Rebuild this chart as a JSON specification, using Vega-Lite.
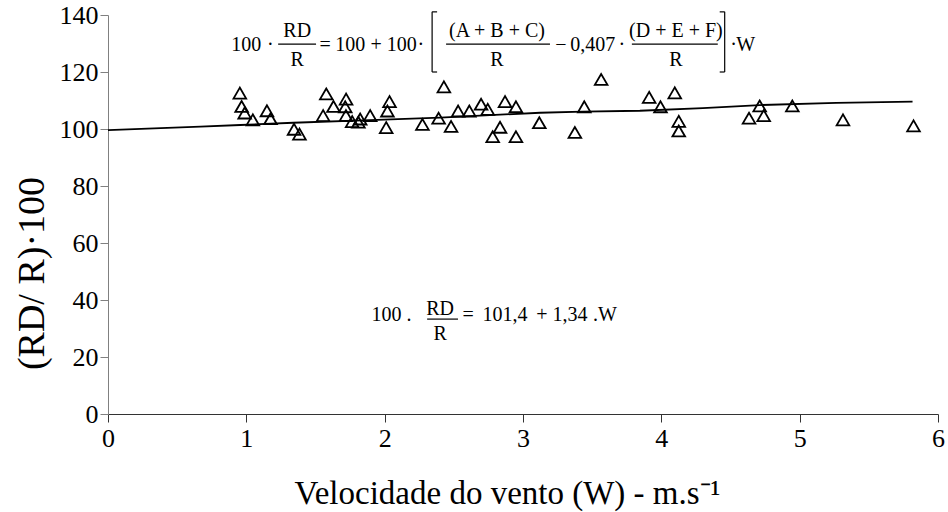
{
  "$schema": "https://vega.github.io/schema/vega-lite/v6.json",
  "width": 830,
  "height": 399,
  "autosize": {"type": "none"},
  "padding": {"left": 108, "top": 15, "right": 10, "bottom": 98},
  "background": "white",
  "config": {"view": {"stroke": null}, "font": "Liberation Serif"},
  "datasets": {
    "pts": [
      {"W": 0.953, "RD": 112.6}, {"W": 0.966, "RD": 107.9}, {"W": 0.988, "RD": 105.6}, {"W": 1.047, "RD": 103.2},
      {"W": 1.149, "RD": 106.4}, {"W": 1.175, "RD": 103.6}, {"W": 1.345, "RD": 99.9}, {"W": 1.384, "RD": 98.2},
      {"W": 1.578, "RD": 112.3}, {"W": 1.555, "RD": 104.7}, {"W": 1.63, "RD": 107.9}, {"W": 1.721, "RD": 110.5},
      {"W": 1.715, "RD": 107.8}, {"W": 1.72, "RD": 104.7}, {"W": 1.765, "RD": 102.6}, {"W": 1.823, "RD": 103.5},
      {"W": 1.81, "RD": 102.4}, {"W": 1.895, "RD": 104.7}, {"W": 2.035, "RD": 109.6}, {"W": 2.02, "RD": 106.3},
      {"W": 2.011, "RD": 100.5}, {"W": 2.273, "RD": 101.6}, {"W": 2.39, "RD": 103.8}, {"W": 2.428, "RD": 114.8},
      {"W": 2.48, "RD": 100.9}, {"W": 2.531, "RD": 106.3}, {"W": 2.612, "RD": 106.3}, {"W": 2.697, "RD": 108.7},
      {"W": 2.745, "RD": 106.9}, {"W": 2.87, "RD": 109.6}, {"W": 2.949, "RD": 107.8}, {"W": 2.834, "RD": 100.6},
      {"W": 2.781, "RD": 97.3}, {"W": 2.949, "RD": 97.3}, {"W": 3.118, "RD": 102.2}, {"W": 3.375, "RD": 98.8},
      {"W": 3.443, "RD": 107.8}, {"W": 3.565, "RD": 117.4}, {"W": 3.912, "RD": 111.1}, {"W": 3.994, "RD": 107.8},
      {"W": 4.097, "RD": 112.7}, {"W": 4.126, "RD": 102.7}, {"W": 4.126, "RD": 99.3}, {"W": 4.634, "RD": 103.8},
      {"W": 4.711, "RD": 108.1}, {"W": 4.74, "RD": 104.7}, {"W": 4.947, "RD": 108.1}, {"W": 5.313, "RD": 103.2},
      {"W": 5.823, "RD": 101.1}
    ],
    "fit": [
      {"W": 0.0, "RD": 99.6}, {"W": 0.668, "RD": 100.8}, {"W": 0.957, "RD": 101.4}, {"W": 1.339, "RD": 102.2},
      {"W": 1.944, "RD": 103.2}, {"W": 2.401, "RD": 104.0}, {"W": 3.123, "RD": 105.7}, {"W": 3.433, "RD": 106.1},
      {"W": 3.845, "RD": 106.4}, {"W": 4.3, "RD": 107.3}, {"W": 4.711, "RD": 108.4}, {"W": 5.265, "RD": 109.2},
      {"W": 5.816, "RD": 109.6}
    ],
    "eqtext": [
      {"t": "100", "x": 1.0, "y": 129.5}, {"t": "·", "x": 1.173, "y": 129.5},
      {"t": "RD", "x": 1.368, "y": 134.4}, {"t": "R", "x": 1.368, "y": 124.2},
      {"t": "=", "x": 1.57, "y": 129.5}, {"t": "100", "x": 1.751, "y": 129.5}, {"t": "+", "x": 1.939, "y": 129.5},
      {"t": "100", "x": 2.124, "y": 129.5}, {"t": "·", "x": 2.262, "y": 129.5},
      {"t": "(A + B + C)", "x": 2.812, "y": 134.4}, {"t": "R", "x": 2.812, "y": 124.2},
      {"t": "−", "x": 3.274, "y": 129.5}, {"t": "0,407", "x": 3.505, "y": 129.5}, {"t": "·", "x": 3.715, "y": 129.5},
      {"t": "(D + E + F)", "x": 4.105, "y": 134.4}, {"t": "R", "x": 4.105, "y": 124.2},
      {"t": "·", "x": 4.523, "y": 129.5}, {"t": "W", "x": 4.61, "y": 129.5},
      {"t": "100 .", "x": 2.05, "y": 34.7}, {"t": "RD", "x": 2.401, "y": 36.8}, {"t": "R", "x": 2.401, "y": 28.0},
      {"t": "=", "x": 2.603, "y": 34.7}, {"t": "101,4", "x": 2.87, "y": 34.7}, {"t": "+", "x": 3.137, "y": 34.7},
      {"t": "1,34", "x": 3.339, "y": 34.7}, {"t": ".W", "x": 3.592, "y": 34.7}
    ],
    "bars": [
      {"x": 1.23, "x2": 1.504, "y": 129.8, "y2": 129.8},
      {"x": 2.444, "x2": 3.195, "y": 129.8, "y2": 129.8},
      {"x": 3.787, "x2": 4.408, "y": 129.8, "y2": 129.8},
      {"x": 2.307, "x2": 2.53, "y": 33.3, "y2": 33.3},
      {"x": 2.343, "x2": 2.343, "y": 120.0, "y2": 141.1},
      {"x": 2.343, "x2": 2.379, "y": 141.1, "y2": 141.1},
      {"x": 2.343, "x2": 2.379, "y": 120.0, "y2": 120.0},
      {"x": 4.458, "x2": 4.458, "y": 120.0, "y2": 141.1},
      {"x": 4.422, "x2": 4.458, "y": 141.1, "y2": 141.1},
      {"x": 4.422, "x2": 4.458, "y": 120.0, "y2": 120.0}
    ]
  },
  "layer": [
    {
      "data": {"name": "fit"},
      "mark": {"type": "line", "color": "black", "strokeWidth": 1.8},
      "encoding": {
        "x": {"field": "W", "type": "quantitative", "scale": {"domain": [0, 6], "nice": false},
          "axis": {"values": [0, 1, 2, 3, 4, 5, 6], "format": "d", "grid": false, "domainColor": "#333333", "tickColor": "#333333",
            "tickSize": 8, "labelFont": "Liberation Serif", "labelFontSize": 26, "labelColor": "black", "labelPadding": 3,
            "labelFlush": false,
            "title": "Velocidade do vento (W) - m.s⁻¹", "titleFont": "Liberation Serif", "titleFontSize": 33,
            "titleFontWeight": "normal", "titleColor": "black", "titleX": 399, "titleY": 89, "titleBaseline": "alphabetic", "titleAlign": "center"}},
        "y": {"field": "RD", "type": "quantitative", "scale": {"domain": [0, 140], "nice": false},
          "axis": {"values": [0, 20, 40, 60, 80, 100, 120, 140], "format": "d", "grid": false, "domainColor": "#808080", "tickColor": "#808080",
            "tickSize": 8, "labelFont": "Liberation Serif", "labelFontSize": 26, "labelColor": "black", "labelPadding": 2,
            "labelFlush": false,
            "title": "(RD/ R)·100", "titleFont": "Liberation Serif", "titleFontSize": 38, "titleFontWeight": "normal",
            "titleColor": "black", "titleX": -76, "titleY": 258, "titleAngle": -90, "titleAlign": "center", "titleBaseline": "middle"}}
      }
    },
    {
      "data": {"name": "pts"},
      "mark": {"type": "point", "shape": "triangle-up", "filled": false, "stroke": "black", "strokeWidth": 1.8, "size": 160, "opacity": 1},
      "encoding": {
        "x": {"field": "W", "type": "quantitative"},
        "y": {"field": "RD", "type": "quantitative"}
      }
    },
    {
      "data": {"name": "bars"},
      "mark": {"type": "rule", "color": "black", "strokeWidth": 1.2},
      "encoding": {
        "x": {"field": "x", "type": "quantitative"},
        "x2": {"field": "x2"},
        "y": {"field": "y", "type": "quantitative"},
        "y2": {"field": "y2"}
      }
    },
    {
      "data": {"name": "eqtext"},
      "mark": {"type": "text", "font": "Liberation Serif", "fontSize": 20, "color": "black", "align": "center", "baseline": "middle"},
      "encoding": {
        "x": {"field": "x", "type": "quantitative"},
        "y": {"field": "y", "type": "quantitative"},
        "text": {"field": "t"}
      }
    }
  ]
}
